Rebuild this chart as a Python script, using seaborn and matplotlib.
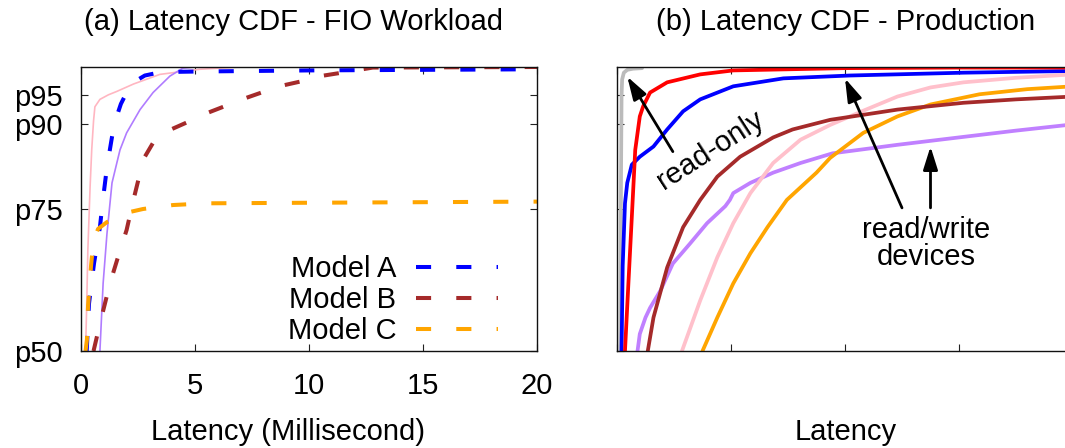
import matplotlib
matplotlib.use("Agg")
import matplotlib.pyplot as plt
import seaborn as sns

sns.set_theme(style="ticks")
plt.rcParams["font.family"] = ["Liberation Sans", "DejaVu Sans"]
plt.rcParams["text.color"] = "black"
plt.rcParams["xtick.color"] = "black"
plt.rcParams["ytick.color"] = "black"
plt.rcParams["axes.labelcolor"] = "black"

# percentile axis shared by both panels
PCT_TICKS = [50, 75, 90, 95]
PCT_LABELS = ["p50", "p75", "p90", "p95"]
FIO_XTICKS = [0, 5, 10, 15, 20]
PROD_XTICKS = [0, 1, 2, 3, 4]

# (a) FIO workload: latency in ms against percentile
model_a_ms = [0.25, 0.35, 0.57, 0.83, 0.96, 1.14, 1.36, 1.49, 1.75, 2.0, 2.3, 2.8, 3.5, 5.0, 10.0, 15.0, 20.0]
model_a_pct = [50, 58.3, 65.4, 71.8, 76.6, 82.4, 87.7, 90.4, 93.5, 95.5, 97.3, 98.5, 99.1, 99.2, 99.4, 99.5, 99.6]

model_b_ms = [0.55, 0.83, 1.27, 1.62, 2.0, 2.3, 2.6, 2.8, 3.3, 4.0, 4.9, 5.6, 6.5, 7.2, 8.2, 8.8, 9.8, 10.5, 11.6, 12.8, 20.0]
model_b_pct = [50, 54.8, 61.9, 66.5, 71.3, 76.6, 81.5, 84.2, 87.6, 89.1, 90.7, 92.0, 93.4, 94.5, 95.9, 96.7, 97.6, 98.4, 99.1, 99.9, 100]

model_c_ms = [0.2, 0.26, 0.31, 0.44, 0.55, 0.75, 1.14, 2.06, 2.72, 4.04, 5.5, 10.0, 20.0]
model_c_pct = [50, 52, 58, 65, 69.5, 71.5, 72.7, 74.4, 75.0, 75.7, 76.0, 76.1, 76.3]

ref_pink_ms = [0.2, 0.25, 0.3, 0.4, 0.47, 0.55, 0.61, 0.83, 1.2, 1.57, 2.3, 3.46, 5.2, 7.0, 20.0]
ref_pink_pct = [50, 58, 67.7, 79, 85.4, 90.5, 93.0, 94.3, 95.1, 95.7, 97.0, 98.7, 99.6, 100, 100]

ref_purple_ms = [0.83, 0.97, 1.14, 1.36, 1.71, 2.0, 2.59, 3.16, 3.9, 4.47, 5.0, 20.0]
ref_purple_pct = [50, 61.9, 70.7, 79.6, 85.4, 88.4, 92.5, 95.5, 98.4, 99.8, 100, 100]

# (b) production devices: latency (unlabelled scale) against percentile
gray_lat = [0.03, 0.035, 0.04, 0.045, 0.06, 0.09, 0.14, 0.22]
gray_pct = [50, 80, 95, 97.8, 99.0, 99.5, 99.7, 99.8]

red_lat = [0.07, 0.1, 0.13, 0.16, 0.2, 0.23, 0.29, 0.44, 0.73, 1.02, 2.0, 3.0, 4.0]
red_pct = [50, 61.9, 73.6, 85.4, 91.3, 93.1, 95.5, 97.3, 98.7, 99.4, 99.8, 99.9, 99.9]

blue_lat = [0.04, 0.05, 0.07, 0.09, 0.13, 0.2, 0.32, 0.44, 0.58, 0.73, 1.02, 1.46, 2.04, 3.04, 4.0]
blue_pct = [50, 65, 76, 79.6, 82.8, 84.2, 86.0, 89.0, 92.2, 94.3, 96.6, 98.0, 98.5, 99.0, 99.3]

brown_lat = [0.27, 0.32, 0.44, 0.58, 0.73, 0.88, 1.08, 1.37, 1.54, 1.87, 2.46, 3.04, 3.5, 4.0]
brown_pct = [50, 55.9, 64.7, 71.8, 76.6, 80.7, 84.2, 87.6, 89.0, 90.7, 92.5, 93.7, 94.3, 94.8]

pink_lat = [0.57, 0.73, 0.88, 1.02, 1.17, 1.37, 1.61, 1.87, 2.16, 2.46, 2.75, 3.04, 3.5, 4.0]
pink_pct = [50, 58.9, 66.5, 72.5, 77.8, 83.1, 87.2, 89.8, 92.3, 94.8, 96.4, 97.3, 98.1, 98.7]

orange_lat = [0.75, 0.88, 1.02, 1.17, 1.32, 1.49, 1.75, 1.87, 2.16, 2.46, 2.75, 3.18, 3.6, 4.0]
orange_pct = [50, 55.9, 61.9, 67.2, 71.8, 76.6, 81.4, 84.0, 88.4, 91.3, 93.4, 95.2, 96.1, 96.6]

purple_lat = [0.18, 0.2, 0.25, 0.29, 0.38, 0.49, 0.64, 0.79, 0.95, 0.99, 1.02, 1.17, 1.37, 1.61, 1.89, 2.46, 3.04, 3.5, 4.0]
purple_pct = [50, 53.0, 55.9, 57.6, 60.6, 65.4, 68.9, 72.5, 75.5, 76.6, 77.8, 79.6, 81.4, 83.1, 84.8, 86.3, 87.7, 88.8, 89.9]

W, H = 1065, 448
fig = plt.figure(figsize=(W / 100, H / 100), dpi=100)
ax_a = fig.add_axes([81 / W, (H - 351) / H, 456 / W, 284 / H])
ax_b = fig.add_axes([617 / W, (H - 351) / H, 456 / W, 284 / H])

DASH = (0, (3.75, 6.25))
FS = 21


def curve(ax, x, y, color, lw, **kw):
    sns.lineplot(x=x, y=y, ax=ax, color=color, linewidth=lw, sort=False,
                 estimator=None, **kw)


# ---- panel (a)
curve(ax_a, ref_pink_ms, ref_pink_pct, "#ffb6c1", 1.2)
curve(ax_a, ref_purple_ms, ref_purple_pct, "#b07cff", 1.2)
curve(ax_a, model_a_ms, model_a_pct, "#0000ff", 2.9, linestyle=DASH, label="Model A")
curve(ax_a, model_b_ms, model_b_pct, "#a52a2a", 2.9, linestyle=DASH, label="Model B")
curve(ax_a, model_c_ms, model_c_pct, "#ffa500", 2.9, linestyle=DASH, label="Model C")

ax_a.set_xlim(0, 20)
ax_a.set_xticks(FIO_XTICKS)
ax_a.set_xticklabels([str(v) for v in FIO_XTICKS])

handles, labels = ax_a.get_legend_handles_labels()
ax_a.legend(handles, labels, loc="lower right", bbox_to_anchor=(0.914, 0.02),
            frameon=False, fontsize=FS, markerfirst=False, handlelength=2.8,
            handletextpad=0.68, labelspacing=0.1, borderpad=0, borderaxespad=0)

# ---- panel (b)
curve(ax_b, gray_lat, gray_pct, "#bbbbbb", 2.7)
curve(ax_b, purple_lat, purple_pct, "#c080ff", 2.7)
curve(ax_b, orange_lat, orange_pct, "#ffa500", 2.7)
curve(ax_b, pink_lat, pink_pct, "#ffc0cb", 2.7)
curve(ax_b, brown_lat, brown_pct, "#a52a2a", 2.7)
curve(ax_b, blue_lat, blue_pct, "#0000ff", 2.7)
curve(ax_b, red_lat, red_pct, "#ff0000", 2.7)
ax_b.set_xlim(0, 4)
ax_b.set_xticks(PROD_XTICKS)
ax_b.set_xticklabels([])

arrow = dict(arrowstyle="-|>,head_length=0.7,head_width=0.22", color="black",
             lw=2.0, mutation_scale=20, shrinkA=0, shrinkB=0)
ax_b.annotate("", xy=(0.09, 98.3), xytext=(0.49, 85.1), arrowprops=arrow)
ax_b.annotate("", xy=(2.0, 98.0), xytext=(2.50, 75.2), arrowprops=arrow)
ax_b.annotate("", xy=(2.75, 86.0), xytext=(2.75, 75.2), arrowprops=arrow)
ax_b.text(0.82, 85.4, "read-only", fontsize=FS, rotation=33, ha="center",
          va="center", rotation_mode="anchor")
ax_b.text(2.71, 69.0, "read/write\ndevices", fontsize=FS, ha="center",
          va="center", linespacing=0.95)

for ax in (ax_a, ax_b):
    ax.set_ylim(50, 100)
    ax.set_yticks(PCT_TICKS)
    ax.tick_params(direction="in", length=5, width=0.8, top=True, right=True,
                   labelsize=FS, color="#222222")
    ax.tick_params(axis="x", pad=15)
    ax.tick_params(axis="y", pad=13)
    ax.set_xlabel("")
    ax.set_ylabel("")
    for s in ax.spines.values():
        s.set_linewidth(1.0)
        s.set_color("#111111")

ax_a.set_yticklabels(PCT_LABELS)
ax_b.set_yticklabels([])

ax_a.set_xlabel("Latency (Millisecond)", fontsize=FS)
ax_a.xaxis.set_label_coords(0.454, -0.235)
ax_b.set_xlabel("Latency", fontsize=FS)
ax_b.xaxis.set_label_coords(0.502, -0.235)

fig.text(293 / W, 1 - 22 / H, "(a) Latency CDF - FIO Workload", fontsize=FS,
         ha="center", va="center")
fig.text(846 / W, 1 - 22 / H, "(b) Latency CDF - Production", fontsize=FS,
         ha="center", va="center")

fig.savefig("out.png", dpi=100)
